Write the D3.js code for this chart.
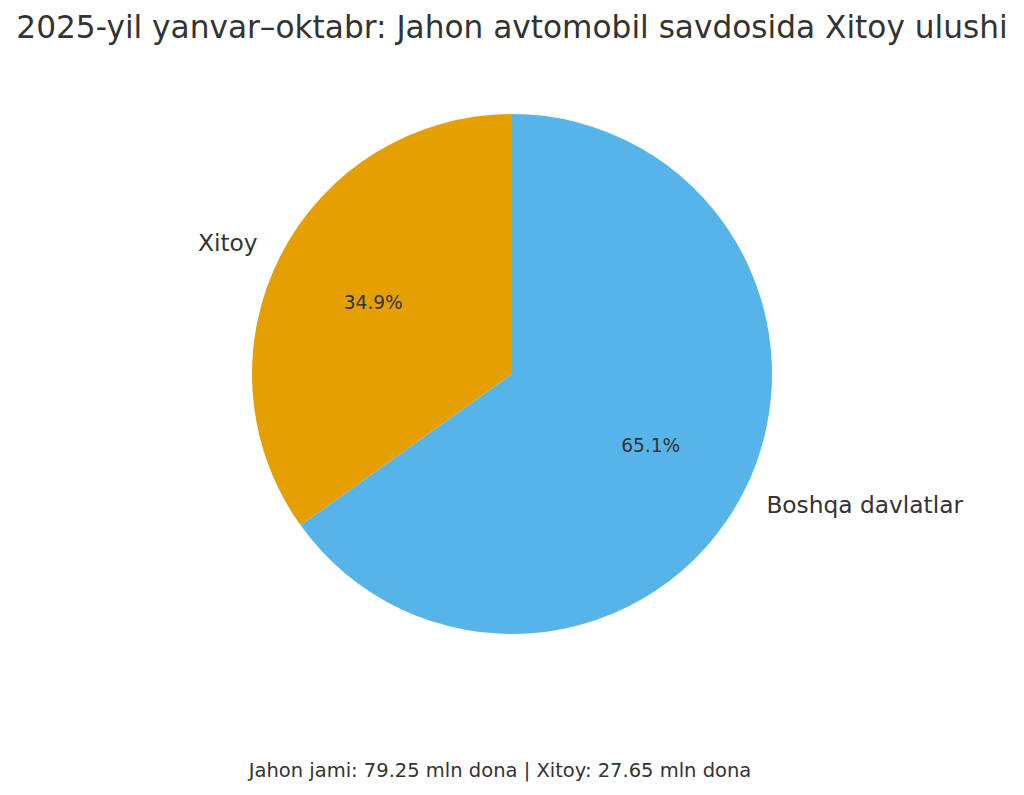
<!DOCTYPE html>
<html>
<head>
<meta charset="utf-8">
<script src="https://cdn.jsdelivr.net/npm/d3@7"></script>
<style>
  html, body { margin: 0; padding: 0; background: #fff; }
  svg { display: block; font-family: "DejaVu Sans", sans-serif; }
</style>
</head>
<body>
<svg id="chart" width="1024" height="795"></svg>
<script>
const categories = ["Xitoy", "Boshqa davlatlar"];
const values = [27.65, 51.60];
const colors = ["#E69F00", "#56B4E9"];
const titleText = "2025-yil yanvar–oktabr: Jahon avtomobil savdosida Xitoy ulushi";
const footerText = "Jahon jami: 79.25 mln dona | Xitoy: 27.65 mln dona";

const svg = d3.select("#chart");
const cx = 512, cy = 374, R = 260;
const total = d3.sum(values);

const data = categories.map((c, i) => ({ name: c, value: values[i], color: colors[i] }));

// matplotlib-style: startangle 90, counterclockwise
const pie = d3.pie().sort(null).value(d => d.value)
  .startAngle(2 * Math.PI).endAngle(0);
const arcs = pie(data);
const arc = d3.arc().innerRadius(0).outerRadius(R);

const g = svg.append("g").attr("transform", `translate(${cx},${cy})`);
g.selectAll("path").data(arcs).enter().append("path")
  .attr("d", arc)
  .attr("fill", d => d.data.color);

function pos(d, r) {
  const a = (d.startAngle + d.endAngle) / 2;
  return [r * Math.sin(a), -r * Math.cos(a)];
}

g.selectAll("text.lbl").data(arcs).enter().append("text")
  .attr("class", "lbl")
  .attr("x", d => pos(d, R * 1.1)[0])
  .attr("y", d => pos(d, R * 1.1)[1])
  .attr("dy", "0.35em")
  .attr("text-anchor", d => pos(d, 1)[0] < 0 ? "end" : "start")
  .attr("font-size", 23.3)
  .attr("fill", "#333")
  .text(d => d.data.name);

g.selectAll("text.pct").data(arcs).enter().append("text")
  .attr("class", "pct")
  .attr("x", d => pos(d, R * 0.6)[0])
  .attr("y", d => pos(d, R * 0.6)[1])
  .attr("dy", "0.35em")
  .attr("text-anchor", "middle")
  .attr("font-size", 18.6)
  .attr("fill", "#333")
  .text(d => (d.data.value / total * 100).toFixed(1) + "%");

svg.append("text")
  .attr("x", 512).attr("y", 38)
  .attr("text-anchor", "middle")
  .attr("font-size", 31.2)
  .attr("fill", "#333")
  .text(titleText);

svg.append("text")
  .attr("x", 500).attr("y", 777)
  .attr("text-anchor", "middle")
  .attr("font-size", 19.5)
  .attr("fill", "#333")
  .text(footerText);
</script>
</body>
</html>
